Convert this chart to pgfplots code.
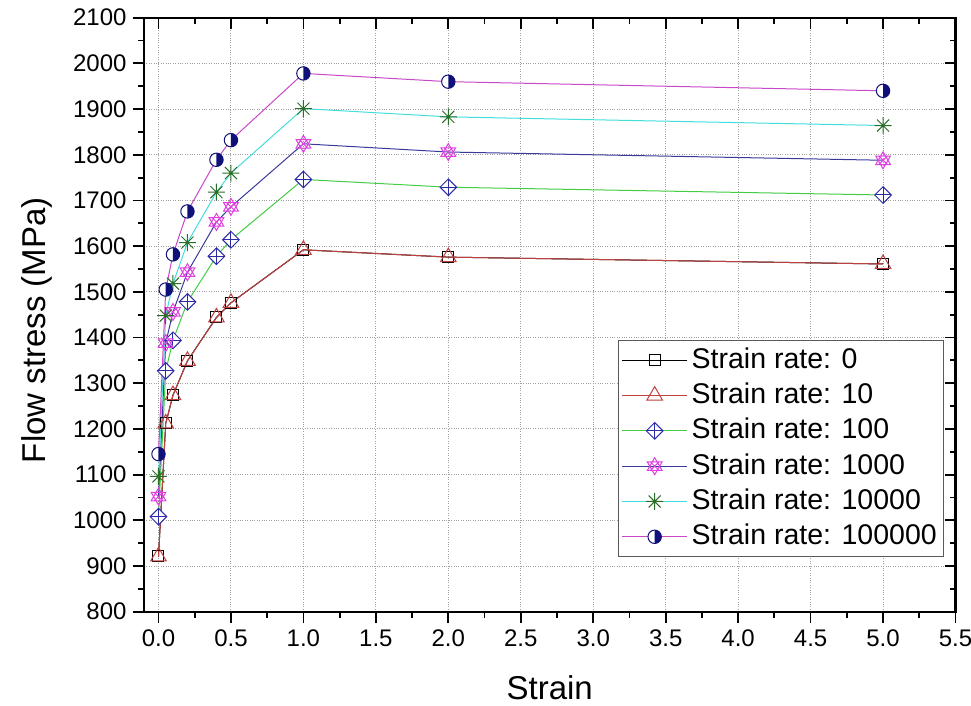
\documentclass[border=0pt]{standalone}
\usepackage{fontspec}
\setmainfont{Liberation Sans}
\usepackage{pgfplots}
\pgfplotsset{compat=1.18}

\definecolor{cred}{HTML}{C04040}
\definecolor{cgreen}{HTML}{44CC44}
\definecolor{cblue}{HTML}{2B2BA8}
\definecolor{cnavyline}{HTML}{3A3A9A}
\definecolor{cmag}{HTML}{E040E0}
\definecolor{ccyan}{HTML}{44DDDD}
\definecolor{cdkgreen}{HTML}{2A6E2A}
\definecolor{cviolet}{HTML}{C848C8}
\definecolor{cnavy}{HTML}{10107A}

\pgfdeclareplotmark{dplus}{%
  \pgfpathmoveto{\pgfpoint{\pgfplotmarksize}{0pt}}%
  \pgfpathlineto{\pgfpoint{0pt}{\pgfplotmarksize}}%
  \pgfpathlineto{\pgfpoint{-\pgfplotmarksize}{0pt}}%
  \pgfpathlineto{\pgfpoint{0pt}{-\pgfplotmarksize}}%
  \pgfpathclose
  \pgfusepathqfillstroke
  \pgfpathmoveto{\pgfpoint{\pgfplotmarksize}{0pt}}%
  \pgfpathlineto{\pgfpoint{-\pgfplotmarksize}{0pt}}%
  \pgfpathmoveto{\pgfpoint{0pt}{\pgfplotmarksize}}%
  \pgfpathlineto{\pgfpoint{0pt}{-\pgfplotmarksize}}%
  \pgfusepathqstroke
}
\pgfdeclareplotmark{hexstar}{%
  \pgfpathmoveto{\pgfpointpolar{90}{\pgfplotmarksize}}%
  \pgfpathlineto{\pgfpointpolar{210}{\pgfplotmarksize}}%
  \pgfpathlineto{\pgfpointpolar{330}{\pgfplotmarksize}}%
  \pgfpathclose
  \pgfpathmoveto{\pgfpointpolar{270}{\pgfplotmarksize}}%
  \pgfpathlineto{\pgfpointpolar{30}{\pgfplotmarksize}}%
  \pgfpathlineto{\pgfpointpolar{150}{\pgfplotmarksize}}%
  \pgfpathclose
  \pgfpathmoveto{\pgfpointpolar{45}{0.75\pgfplotmarksize}}%
  \pgfpathlineto{\pgfpointpolar{225}{0.75\pgfplotmarksize}}%
  \pgfpathmoveto{\pgfpointpolar{135}{0.75\pgfplotmarksize}}%
  \pgfpathlineto{\pgfpointpolar{315}{0.75\pgfplotmarksize}}%
  \pgfusepathqstroke
}
\pgfdeclareplotmark{plusx}{%
  \pgfpathmoveto{\pgfpointpolar{0}{\pgfplotmarksize}}%
  \pgfpathlineto{\pgfpointpolar{180}{\pgfplotmarksize}}%
  \pgfpathmoveto{\pgfpointpolar{90}{\pgfplotmarksize}}%
  \pgfpathlineto{\pgfpointpolar{270}{\pgfplotmarksize}}%
  \pgfpathmoveto{\pgfpointpolar{45}{\pgfplotmarksize}}%
  \pgfpathlineto{\pgfpointpolar{225}{\pgfplotmarksize}}%
  \pgfpathmoveto{\pgfpointpolar{135}{\pgfplotmarksize}}%
  \pgfpathlineto{\pgfpointpolar{315}{\pgfplotmarksize}}%
  \pgfusepathqstroke
}
\pgfdeclareplotmark{halfcirc}{%
  \pgfpathcircle{\pgfpointorigin}{\pgfplotmarksize}%
  \pgfusepathqfillstroke
  \pgfscope
  \pgfsetfillcolor{cnavy}%
  \pgfpathmoveto{\pgfpoint{0pt}{\pgfplotmarksize}}%
  \pgfpatharc{90}{-90}{\pgfplotmarksize}%
  \pgfpathclose
  \pgfusepathqfill
  \endpgfscope
}

\pgfplotstableread{
x     r0    r10   r100  r1000 r10000 r100000
0     921   921   1008  1052  1096   1145
0.05  1212  1212  1327  1388  1448   1505
0.1   1274  1274  1394  1456  1518   1582
0.2   1349  1349  1478  1543  1608   1676
0.4   1444  1444  1578  1653  1718   1789
0.5   1476  1476  1614  1686  1760   1832
1     1592  1592  1746  1824  1901   1978
2     1576  1576  1729  1806  1883   1960
5     1561  1561  1712  1788  1864   1940
}\datatable

\begin{document}
\begin{tikzpicture}
\pgfplotsset{
  common/.style={
    scale only axis, width=811.5pt, height=594pt,
    xmin=-0.1, xmax=5.5, ymin=800, ymax=2100,
    xtick={0,0.5,1,1.5,2,2.5,3,3.5,4,4.5,5,5.5},
    ytick={800,900,1000,1100,1200,1300,1400,1500,1600,1700,1800,1900,2000,2100},
    minor x tick num=1, minor y tick num=1,
    major tick length=11pt, minor tick length=6pt,
    every tick/.append style={line width=1.8pt, black},
    axis line style={line width=2.2pt},
  }
}
\begin{axis}[common,
  tick pos=left, tick align=outside,
  grid=major, grid style={dotted, line width=0.9pt, gray!75},
  /pgf/number format/assume math mode=true,
  /pgf/number format/1000 sep={},
  ticklabel style={font=\fontsize{24}{28}\selectfont},
  xticklabel style={/pgf/number format/fixed, /pgf/number format/fixed zerofill, /pgf/number format/precision=1, yshift=-4pt},
  yticklabel style={xshift=-3pt},
  xlabel={Strain}, ylabel={Flow stress (MPa)},
  label style={font=\fontsize{33}{39}\selectfont},
  xlabel style={at={(axis description cs:0.5,0)}, anchor=base, yshift=-88pt, inner sep=0pt},
  ylabel style={at={(axis description cs:-0.122,0.474)}, anchor=base},
  legend cell align=left,
  legend style={at={(0.986,0.457)}, anchor=north east, draw=gray!70!black, line width=0.8pt,
    fill=white, font=\fontsize{28.5}{34}\selectfont, inner xsep=3pt, inner ysep=2pt,
    row sep=0pt, column sep=0pt,
    nodes={inner xsep=4pt, inner ysep=4.5pt, text height=21pt, text depth=5.3pt}},
  legend image code/.code={\draw[line width=1pt, mark repeat=2, mark phase=2] plot coordinates {(0pt,0pt) (32.5pt,0pt) (65pt,0pt)};},
]
\addplot[black, line width=1pt, mark=square, mark size=5.5pt, mark options={solid, fill=white, black, line width=1pt}] table[x=x,y=r0] {\datatable};
\addlegendentry{Strain rate: 0}
\addplot[cred, line width=1pt, mark=triangle, mark size=9pt, mark options={solid, cred, line width=1pt}] table[x=x,y=r10] {\datatable};
\addlegendentry{Strain rate: 10}
\addplot[cgreen, line width=1pt, mark=dplus, mark size=8.3pt, mark options={solid, fill=white, draw=cblue, line width=1pt}] table[x=x,y=r100] {\datatable};
\addlegendentry{Strain rate: 100}
\addplot[cnavyline, line width=1pt, mark=hexstar, mark size=8.5pt, mark options={solid, draw=cmag, line width=1pt}] table[x=x,y=r1000] {\datatable};
\addlegendentry{Strain rate: 1000}
\addplot[ccyan, line width=1pt, mark=plusx, mark size=8.5pt, mark options={solid, draw=cdkgreen, line width=1pt}] table[x=x,y=r10000] {\datatable};
\addlegendentry{Strain rate: 10000}
\addplot[cviolet, line width=1pt, mark=halfcirc, mark size=6.7pt, mark options={solid, fill=white, draw=cnavy, line width=1pt}] table[x=x,y=r100000] {\datatable};
\addlegendentry{Strain rate: 100000}
\end{axis}
\begin{axis}[common,
  tick pos=right, tick align=inside,
  xticklabels={}, yticklabels={},
]
\end{axis}
\pgfresetboundingbox
\path (-144pt,-94.3pt) rectangle (827pt,611.7pt);
\end{tikzpicture}
\end{document}
